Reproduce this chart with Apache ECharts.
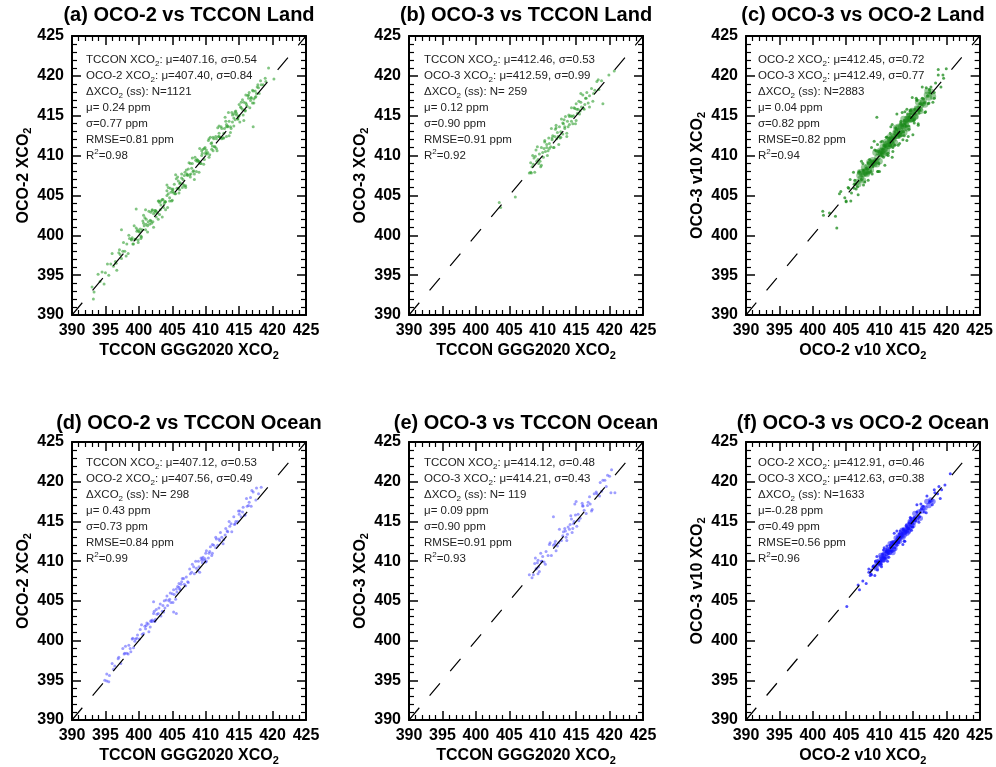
<!DOCTYPE html>
<html><head><meta charset="utf-8">
<script src="https://cdn.jsdelivr.net/npm/echarts@6/dist/echarts.min.js"></script>
<style>html,body{margin:0;padding:0;background:#fff}#c{width:996px;height:767px}</style>
</head><body><div id="c"></div>
<script>
// ---------- data ----------
const tickValues = [390, 395, 400, 405, 410, 415, 420, 425];
const oneToOne = [390, 425];
const titles = ['(a) OCO-2 vs TCCON Land', '(b) OCO-3 vs TCCON Land', '(c) OCO-3 vs OCO-2 Land',
                '(d) OCO-2 vs TCCON Ocean', '(e) OCO-3 vs TCCON Ocean', '(f) OCO-3 vs OCO-2 Ocean'];
const xNames = ['TCCON GGG2020 XCO{s|2}', 'TCCON GGG2020 XCO{s|2}', 'OCO-2 v10 XCO{s|2}'];
const yNames = ['OCO-2 XCO{s|2}', 'OCO-3 XCO{s|2}', 'OCO-3 v10 XCO{s|2}'];
const statsA = ['TCCON XCO{s|2}: μ=407.16, σ=0.54', 'OCO-2 XCO{s|2}: μ=407.40, σ=0.84', 'ΔXCO{s|2} (ss): N=1121', 'μ= 0.24 ppm', 'σ=0.77 ppm', 'RMSE=0.81 ppm', 'R{p|2}=0.98'];
const statsB = ['TCCON XCO{s|2}: μ=412.46, σ=0.53', 'OCO-3 XCO{s|2}: μ=412.59, σ=0.99', 'ΔXCO{s|2} (ss): N= 259', 'μ= 0.12 ppm', 'σ=0.90 ppm', 'RMSE=0.91 ppm', 'R{p|2}=0.92'];
const statsC = ['OCO-2 XCO{s|2}: μ=412.45, σ=0.72', 'OCO-3 XCO{s|2}: μ=412.49, σ=0.77', 'ΔXCO{s|2} (ss): N=2883', 'μ= 0.04 ppm', 'σ=0.82 ppm', 'RMSE=0.82 ppm', 'R{p|2}=0.94'];
const statsD = ['TCCON XCO{s|2}: μ=407.12, σ=0.53', 'OCO-2 XCO{s|2}: μ=407.56, σ=0.49', 'ΔXCO{s|2} (ss): N= 298', 'μ= 0.43 ppm', 'σ=0.73 ppm', 'RMSE=0.84 ppm', 'R{p|2}=0.99'];
const statsE = ['TCCON XCO{s|2}: μ=414.12, σ=0.48', 'OCO-3 XCO{s|2}: μ=414.21, σ=0.43', 'ΔXCO{s|2} (ss): N= 119', 'μ= 0.09 ppm', 'σ=0.90 ppm', 'RMSE=0.91 ppm', 'R{p|2}=0.93'];
const statsF = ['OCO-2 XCO{s|2}: μ=412.91, σ=0.46', 'OCO-3 XCO{s|2}: μ=412.63, σ=0.38', 'ΔXCO{s|2} (ss): N=1633', 'μ=-0.28 ppm', 'σ=0.49 ppm', 'RMSE=0.56 ppm', 'R{p|2}=0.96'];

const ptsA = [
393.0,393.5, 393.3,392.9, 393.9,395.1, 394.2,394.2, 394.5,395.4, 394.8,393.9, 395.0,395.3, 395.3,396.4, 395.5,395.0, 395.8,396.4,
396.0,397.7, 396.2,396.1, 396.5,396.7, 396.7,395.6, 397.0,397.8, 397.2,397.6, 397.4,397.1, 397.7,399.1, 397.9,398.0, 398.2,398.9,
398.4,397.7, 398.6,399.6, 398.9,399.4, 399.1,398.9, 399.3,401.2, 399.5,399.5, 399.7,400.5, 399.9,399.1, 400.1,400.4, 400.2,400.8,
400.4,399.8, 400.6,401.8, 400.8,401.2, 401.0,400.7, 401.1,402.0, 401.3,401.2, 401.5,403.0, 401.7,401.9, 401.9,401.5, 402.0,403.1,
402.2,401.0, 402.4,403.1, 402.6,403.0, 402.8,402.8, 403.0,404.3, 403.1,402.6, 403.3,403.8, 403.5,404.5, 403.7,403.5, 403.9,404.2,
404.0,403.2, 404.2,405.0, 404.4,406.0, 404.6,404.7, 404.8,405.4, 405.0,404.4, 405.1,405.5, 405.3,406.4, 405.5,405.2, 405.7,405.9,
405.9,406.8, 406.0,405.3, 406.2,406.6, 406.4,407.7, 406.6,406.4, 406.8,407.5, 407.0,406.0, 407.1,408.2, 407.3,407.5, 407.5,409.1,
407.7,407.3, 407.9,408.4, 408.0,409.0, 408.2,408.1, 408.4,409.8, 408.6,408.0, 408.8,409.4, 409.0,409.3, 409.1,410.9, 409.3,409.0,
409.5,410.3, 409.7,408.9, 409.9,411.0, 410.0,410.4, 410.2,410.2, 410.4,411.9, 410.6,410.1, 410.8,411.5, 411.0,411.2, 411.1,412.3,
411.3,411.1, 411.5,412.4, 411.7,410.6, 411.9,412.4, 412.0,413.7, 412.2,412.3, 412.4,413.4, 412.6,412.2, 412.8,413.4, 413.0,414.3,
413.1,412.4, 413.3,413.7, 413.5,414.3, 413.7,413.6, 413.9,415.4, 414.0,414.2, 414.2,413.7, 414.4,415.5, 414.6,415.1, 414.8,414.6,
415.0,416.4, 415.1,414.2, 415.3,416.0, 415.5,415.8, 415.7,416.7, 415.9,415.6, 416.0,417.6, 416.2,416.2, 416.4,417.2, 416.6,416.0,
416.8,417.3, 417.0,418.2, 417.2,417.1, 417.4,418.1, 417.6,417.8, 417.8,418.9, 418.0,417.8, 418.3,418.9, 418.6,418.9, 418.9,419.7,
399.2,398.9, 399.6,400.9, 400.0,400.5, 400.3,399.6, 400.7,401.5, 401.0,403.2, 401.4,401.7, 401.8,402.9, 402.1,401.7, 402.5,403.1,
402.9,404.3, 403.2,403.2, 403.6,404.5, 404.0,404.2, 404.3,403.5, 404.7,405.9, 405.0,405.7, 405.4,405.2, 405.8,407.3, 406.1,406.5,
406.5,406.0, 406.9,407.9, 407.2,407.7, 407.6,407.6, 408.0,409.7, 408.3,407.7, 408.7,409.5, 409.0,409.2, 409.4,410.6, 409.8,409.5,
410.1,410.7, 410.5,412.1, 410.9,410.8, 411.2,412.1, 411.6,410.9, 412.0,412.4, 412.3,413.6, 412.7,412.8, 413.1,413.9, 413.4,415.4,
413.8,413.4, 414.2,414.7, 414.5,415.6, 414.9,414.9, 415.3,416.7, 415.6,415.1, 416.0,416.6, 416.4,417.6, 416.7,416.9, 417.1,418.1, 417.5,417.4,
393.2,392.0, 397.4,400.7, 399.6,403.3, 404.2,406.3, 417.1,413.6, 419.4,421.0, 420.2,419.6, 419.0,419.3
];
const ptsA2 = [
396.6,396.5, 397.1,398.2, 397.6,398.0, 398.1,397.4, 398.5,400.0, 398.9,399.5, 399.4,399.5, 399.8,400.7, 400.3,399.9, 400.7,402.5,
401.1,401.4, 401.6,401.4, 402.0,403.2, 402.4,402.9, 402.9,402.0, 403.3,404.3, 403.8,404.0, 404.2,405.6, 404.6,404.3, 405.1,405.8,
405.5,407.6, 405.9,405.9, 406.4,407.2, 406.8,406.2, 407.2,407.6, 407.7,409.0, 408.1,408.0, 408.5,409.4, 409.0,407.9, 409.4,410.0,
409.8,410.9, 410.3,410.4, 410.7,412.3, 411.1,410.6, 411.6,412.1, 412.0,412.8, 412.4,412.1, 412.9,414.8, 413.3,413.6, 413.7,412.9,
414.2,415.2, 414.6,415.3, 415.0,415.0, 415.5,417.0, 415.9,415.7, 416.3,417.5, 416.8,417.2, 417.2,416.6, 417.7,418.6, 418.2,419.4,
399.0,399.7, 399.9,399.4, 400.5,400.7, 400.9,402.2, 401.3,400.4, 401.8,401.8, 402.2,402.7, 402.6,402.3, 403.1,404.1, 403.5,402.3,
403.9,404.2, 404.4,405.2, 404.9,404.3, 405.2,405.3, 405.6,407.1, 406.1,405.7, 406.6,407.0, 407.0,406.2, 407.4,408.3, 407.8,407.7,
408.3,407.0, 408.7,409.3, 409.2,409.0, 409.6,410.8, 410.0,410.2, 410.5,409.8, 410.9,411.6, 411.4,411.1, 411.8,413.5, 412.2,412.2,
412.7,412.2, 413.1,413.6, 413.5,412.5, 414.0,415.1, 414.4,414.5, 414.8,414.6, 415.2,416.1, 415.7,414.4, 416.1,416.4, 416.5,417.9,
417.0,416.6, 417.4,417.3, 417.9,418.5
];
const ptsB = [
408.0,407.8, 408.2,409.1, 408.3,407.8, 408.5,410.0, 408.6,408.9, 408.8,407.9, 408.9,409.9, 409.1,409.3, 409.2,411.1, 409.4,409.0,
409.5,410.2, 409.7,408.6, 409.8,411.0, 410.0,410.4, 410.1,409.8, 410.3,411.9, 410.4,410.5, 410.6,411.4, 410.7,410.0, 410.9,412.2,
411.0,411.5, 411.2,411.1, 411.3,413.4, 411.5,412.5, 411.6,411.0, 411.8,412.4, 411.9,413.3, 412.1,412.1, 412.2,412.9, 412.4,411.4,
412.5,413.6, 412.7,413.0, 412.8,414.6, 413.0,412.7, 413.1,414.0, 413.3,413.4, 413.4,414.9, 413.6,412.8, 413.7,414.3, 413.9,415.1,
414.0,413.9, 414.2,415.0, 414.3,416.0, 414.5,414.0, 414.6,415.0, 414.8,415.9, 414.9,414.0, 415.1,415.8, 415.2,415.3, 415.4,416.8,
415.5,415.2, 415.7,416.7, 415.8,416.1, 416.0,417.6, 416.2,415.8, 416.4,417.2, 416.6,417.9, 416.8,416.6, 417.0,417.5, 417.3,418.4,
417.5,416.8, 417.8,418.2, 418.1,419.3, 418.4,418.3, 418.8,419.4,
408.4,408.6, 409.0,410.7, 409.6,409.3, 410.2,410.9, 410.8,410.6, 411.4,412.0, 412.0,413.5, 412.6,412.2, 413.2,414.5, 413.8,413.6,
414.4,414.9, 415.0,416.5, 415.6,415.6, 416.3,416.4,
403.5,404.1, 403.7,403.5, 405.9,404.8, 419.9,420.1, 420.7,420.6, 419.0,416.5
];
const ptsB2 = [
408.2,407.9, 408.7,409.7, 409.3,409.5, 409.8,408.8, 410.3,411.7, 410.6,411.0, 411.0,410.9, 411.4,412.2, 411.7,411.0, 412.0,413.8,
412.3,412.4, 412.7,412.3, 413.0,414.1, 413.3,413.6, 413.6,412.4, 414.0,414.9, 414.3,414.3, 414.7,416.0, 415.0,414.4, 415.3,415.8,
415.7,417.8, 416.1,415.9, 416.5,417.2, 417.0,416.1, 417.6,417.8, 418.3,419.5
];
const ptsCcore = [
406.6,406.7, 406.8,406.4, 407.0,407.5, 407.2,407.1, 407.4,407.7, 407.5,406.9, 407.7,408.5, 407.9,407.9, 408.0,407.8, 408.2,408.6,
408.4,408.3, 408.5,409.2, 408.7,408.2, 408.9,409.1, 409.0,409.4, 409.2,408.9, 409.4,410.4, 409.5,409.3, 409.7,409.8, 409.9,410.4,
410.0,409.3, 410.2,410.4, 410.3,410.2, 410.5,411.1, 410.6,410.2, 410.8,410.9, 410.9,411.4, 411.1,410.6, 411.2,411.5, 411.4,411.2,
411.5,412.3, 411.7,411.8, 411.8,411.4, 412.0,412.4, 412.1,412.1, 412.3,411.6, 412.4,412.9, 412.6,412.8, 412.7,412.5, 412.9,413.6,
413.0,412.9, 413.2,413.6, 413.3,412.8, 413.5,413.7, 413.6,414.6, 413.8,413.5, 413.9,413.9, 414.1,414.6, 414.2,413.4, 414.4,414.6,
414.5,414.9, 414.7,414.6, 414.8,415.5, 415.0,414.6, 415.2,415.3, 415.4,414.9, 415.6,415.9, 415.8,416.7, 416.0,415.8, 416.2,416.3,
416.5,416.6, 416.8,416.4, 417.1,417.6, 417.4,417.3, 417.7,418.0, 418.0,417.4,
407.1,407.9, 407.6,407.7, 408.1,407.7, 408.6,409.0, 409.1,409.1, 409.6,408.9, 410.1,410.6, 410.4,410.6, 410.7,410.5, 411.0,411.7,
411.3,411.2, 411.6,412.0, 411.9,411.4, 412.2,412.4, 412.5,413.5, 412.8,412.5, 413.1,413.1, 413.4,413.9, 413.7,412.9, 414.0,414.2,
414.3,414.7, 414.6,414.5, 414.9,415.6, 415.3,414.9, 415.7,415.8, 416.1,415.6, 416.6,416.9, 417.2,418.1
];
const ptsChalo = [
402.5,402.8, 403.4,402.4, 404.2,405.5, 404.8,404.7, 405.3,406.0, 405.7,404.3, 406.1,407.9, 406.4,406.4, 406.7,406.1, 407.0,408.0,
407.3,407.0, 407.5,409.0, 407.8,406.7, 408.0,408.4, 408.3,409.1, 408.5,407.8, 408.8,411.0, 409.0,408.6, 409.2,409.3, 409.5,410.6,
409.7,408.0, 409.9,410.5, 410.2,410.1, 410.4,411.8, 410.6,409.8, 410.8,411.1, 411.0,412.3, 411.3,410.0, 411.5,412.2, 411.7,411.3,
411.9,413.9, 412.1,412.2, 412.3,411.3, 412.5,413.3, 412.8,412.8, 413.0,411.5, 413.2,414.3, 413.4,413.8, 413.6,413.0, 413.8,415.5,
414.0,413.7, 414.2,415.2, 414.4,413.3, 414.6,415.2, 414.9,417.3, 415.1,414.4, 415.3,415.3, 415.6,416.9, 415.8,414.0, 416.1,416.5,
416.4,417.2, 416.7,416.6, 417.0,418.5, 417.3,416.5, 417.6,417.9, 418.0,416.7, 418.4,419.1, 418.8,420.1, 419.2,418.6, 419.6,419.7,
406.2,405.9, 406.9,407.9, 407.6,406.3, 408.2,408.3, 408.7,408.0, 409.3,410.7, 409.8,408.0, 410.3,410.3, 410.7,411.3, 411.1,410.1,
411.6,411.9, 412.0,410.5, 412.4,413.5, 412.9,412.5, 413.3,412.5, 413.7,414.4, 414.1,411.9, 414.5,414.9, 414.8,414.7, 415.2,414.1,
415.5,417.2, 415.9,415.3, 416.3,416.4, 416.9,415.5, 417.5,418.3, 418.2,417.9,
401.6,402.5, 401.5,403.0, 403.6,400.9, 409.6,414.8, 420.0,420.9, 419.5,420.1, 404.0,405.2, 405.0,404.2, 405.4,405.9, 405.8,405.3, 406.3,406.9, 406.5,405.8
];
const ptsCwide = [
405.0,404.3, 405.6,407.0, 406.2,406.4, 406.8,405.1, 407.3,409.3, 407.7,408.2, 408.1,407.8, 408.5,409.5, 408.9,407.7, 409.2,411.8,
409.5,409.5, 409.9,409.0, 410.2,411.7, 410.5,410.8, 410.8,408.8, 411.1,412.3, 411.4,411.2, 411.7,413.6, 412.0,411.0, 412.3,413.0,
412.6,415.2, 412.9,412.4, 413.2,414.1, 413.5,412.0, 413.8,414.0, 414.1,415.8, 414.4,413.7, 414.7,415.7, 415.0,412.6, 415.3,415.8,
415.6,417.0, 416.0,415.7, 416.4,418.6, 416.8,415.4, 417.2,417.5, 417.7,418.6, 418.2,417.2, 418.8,420.8,
407.5,408.2, 408.3,406.9, 409.0,408.8, 409.7,411.4, 410.0,408.0, 410.4,409.9, 410.9,411.2, 411.3,410.3, 411.6,412.8, 411.9,409.8,
412.2,412.2, 412.5,413.4, 412.8,411.3, 413.1,412.8, 413.4,415.4, 413.7,412.5, 414.0,414.2, 414.3,412.4, 414.6,415.6, 415.2,414.5,
415.8,413.8, 416.6,417.1, 417.4,416.6
];
const ptsD = [
395.2,395.8, 395.6,395.6, 396.0,397.1, 396.4,396.8, 396.9,397.7, 397.3,397.1, 397.6,399.0, 397.9,398.4, 398.2,398.4, 398.5,399.4,
398.7,399.0, 399.0,400.2, 399.2,399.1, 399.5,400.2, 399.8,400.7, 400.1,400.2, 400.4,402.0, 400.7,400.9, 401.0,401.5, 401.2,402.2,
401.5,401.1, 401.8,402.5, 402.0,402.4, 402.2,403.4, 402.4,402.4, 402.7,403.3, 403.0,404.1, 403.3,403.1, 403.6,404.4, 403.9,404.1,
404.2,405.6, 404.5,405.0, 404.8,404.8, 405.0,405.9, 405.3,405.8, 405.5,405.2, 405.8,406.8, 406.0,406.7, 406.2,406.4, 406.5,407.8,
406.8,407.1, 407.1,408.0, 407.4,407.3, 407.7,408.4, 408.0,409.6, 408.3,408.4, 408.6,409.1, 408.9,410.0, 409.1,408.6, 409.4,410.1,
409.6,410.5, 409.9,410.3, 410.1,411.3, 410.4,410.4, 410.6,411.2, 410.9,410.7, 411.2,412.0, 411.5,413.0, 411.8,412.0, 412.1,412.6,
412.4,413.0, 412.7,412.7, 413.0,414.1, 413.3,413.7, 413.6,414.4, 413.9,413.7, 414.2,415.6, 414.5,415.0, 414.8,415.0, 415.0,415.9,
415.3,415.6, 415.6,416.8, 415.9,415.8, 416.2,416.9, 416.5,417.4, 416.8,416.9, 417.1,418.7, 417.5,417.7,
398.0,399.3, 398.8,398.6, 399.4,399.9, 400.2,401.4, 400.9,401.8, 401.4,402.1, 402.6,403.9, 403.2,404.6, 403.7,403.6, 404.3,404.4,
404.7,406.0, 405.2,406.4, 405.7,406.1, 406.4,407.4, 407.0,406.9, 407.6,409.0, 408.2,409.3, 408.8,408.8, 409.3,410.4, 410.0,411.0,
410.7,411.8, 411.0,411.0, 411.6,412.8, 412.2,413.6, 412.9,413.3, 413.5,415.0, 414.3,414.6, 414.9,416.3, 415.5,416.2, 416.1,417.9, 416.7,418.0,
395.2,394.9, 394.9,395.0, 395.5,394.8, 417.6,419.2, 418.3,419.3, 416.9,418.9, 417.9,418.5,
402.2,404.9, 405.2,403.6, 405.6,403.4, 403.8,405.0, 402.5,402.7, 402.0,402.6, 401.8,402.4, 402.3,402.5, 406.0,407.2, 406.3,407.1,
409.8,410.1, 410.1,410.0, 409.5,409.8
];
const ptsD2 = [
396.2,396.4, 397.0,397.9, 397.8,398.3, 398.4,398.3, 399.1,400.3, 399.7,400.3, 400.5,400.8, 401.1,401.9, 401.7,401.7, 402.3,403.7,
402.9,403.4, 403.5,403.7, 404.1,405.1, 404.6,405.2, 405.1,404.8, 405.6,406.5, 406.1,406.5, 406.7,407.8, 407.3,407.4, 407.9,408.6,
408.5,410.0, 409.0,409.3, 409.5,410.3, 410.0,409.9, 410.5,411.0, 411.0,412.1, 411.5,411.7, 412.0,412.8, 412.6,412.2, 413.2,413.8,
413.8,414.7, 414.4,414.7, 415.1,416.3, 415.8,415.8, 416.4,417.0
];
const ptsE = [
408.0,408.3, 408.4,407.9, 408.8,409.7, 409.0,409.0, 409.2,409.8, 409.5,408.7, 409.7,411.0, 409.9,410.0, 410.2,409.9, 410.5,411.2,
410.8,410.7, 411.0,412.1, 411.3,410.7, 411.6,412.0, 411.9,412.5, 412.2,411.9, 412.5,414.0, 412.8,412.6, 413.0,413.2, 413.3,414.1,
413.6,412.6, 413.8,414.3, 414.0,414.0, 414.3,415.3, 414.5,414.1, 414.7,415.0, 414.9,415.8, 415.1,414.4, 415.3,415.9, 415.6,415.4,
415.9,417.3, 416.2,416.4, 416.5,416.0, 416.8,417.4, 417.1,417.2, 417.4,416.5, 417.7,418.5, 418.1,418.5, 418.5,418.2, 419.0,420.2,
419.5,419.4, 420.0,420.7,
420.3,421.5, 420.8,418.6, 420.2,418.6, 411.6,415.6, 409.1,409.1, 409.4,409.3, 409.3,408.4, 408.9,410.4, 410.0,410.6, 412.0,411.3,
413.4,413.8, 414.1,414.6, 414.8,417.2, 415.0,417.5, 416.0,417.0, 417.0,418.1, 418.6,419.9, 419.3,420.2, 413.7,413.4, 414.4,413.6
];
const ptsE2 = [
408.6,408.3, 409.3,410.1, 409.8,410.0, 410.4,409.6, 411.1,412.3, 411.8,412.2, 412.4,412.3, 413.1,413.7, 413.5,413.0, 414.2,415.7,
414.6,414.7, 415.4,415.1, 416.0,416.9, 416.7,417.0, 417.3,416.3, 418.0,418.7, 418.8,418.8, 419.7,420.8
];
const ptsFcore = [
409.3,409.3, 409.5,409.1, 409.6,409.9, 409.8,409.7, 409.9,410.0, 410.1,409.6, 410.2,410.7, 410.4,410.3, 410.5,410.2, 410.6,410.8,
410.8,410.6, 410.9,411.3, 411.0,410.5, 411.2,411.2, 411.3,411.5, 411.4,411.1, 411.6,412.2, 411.7,411.5, 411.8,411.8, 412.0,412.3,
412.1,411.5, 412.2,412.3, 412.4,412.3, 412.5,412.9, 412.6,412.2, 412.8,412.8, 412.9,413.2, 413.0,412.5, 413.2,413.3, 413.3,413.1,
413.4,413.9, 413.6,413.6, 413.7,413.3, 413.8,414.0, 414.0,413.9, 414.1,413.5, 414.2,414.5, 414.4,414.4, 414.5,414.2, 414.6,415.0,
414.8,414.6, 414.9,415.1, 415.0,414.5, 415.2,415.3, 415.3,416.0, 415.5,415.2, 415.7,415.6, 415.9,416.2, 416.1,415.4, 416.3,416.3,
416.5,416.7, 416.8,416.7, 417.1,417.5, 417.4,417.0, 417.7,417.7, 418.0,417.5,
410.0,409.8, 410.3,410.5, 410.7,410.2, 411.1,411.0, 411.5,411.1, 411.9,412.2, 412.3,411.6, 412.7,412.6, 413.1,413.1, 413.5,413.0,
413.9,413.8, 414.3,413.7, 414.7,414.9, 415.1,414.9, 410.5,410.1, 411.3,411.4, 412.0,411.1, 412.9,412.8, 413.7,413.6, 414.4,413.9
];
const ptsFhalo = [
407.5,407.5, 408.0,407.2, 408.4,409.0, 408.7,408.4, 409.0,409.3, 409.3,408.2, 409.6,410.6, 409.9,409.7, 410.2,409.6, 410.5,410.9,
410.8,410.4, 411.1,411.9, 411.4,410.5, 411.7,411.8, 412.0,412.3, 412.3,411.7, 412.6,413.8, 412.9,412.4, 413.2,413.1, 413.5,414.0,
413.8,412.5, 414.1,414.3, 414.4,414.1, 414.7,415.4, 415.0,414.3, 415.3,415.3, 415.6,416.2, 415.9,414.9, 416.3,416.6, 416.7,416.2,
417.1,418.2, 417.5,417.4, 417.9,417.1, 418.3,418.6, 418.7,418.5, 419.1,417.9,
405.1,404.3, 407.0,406.4, 406.8,407.0, 419.8,419.6, 420.6,421.0, 418.9,419.4, 419.3,419.0, 408.4,408.6, 408.6,408.2, 408.8,408.9
];
const ptsFwide = [
408.8,408.3, 409.4,410.0, 409.9,409.9, 410.3,409.3, 410.7,411.7, 411.0,411.2, 411.3,411.0, 411.6,412.0, 411.9,411.2, 412.2,413.5,
412.5,412.4, 412.8,412.3, 413.1,413.8, 413.4,413.5, 413.7,412.5, 414.0,414.5, 414.3,414.1, 414.6,415.5, 414.9,414.3, 415.2,415.5,
415.6,417.1, 416.0,415.6, 416.5,416.9, 417.0,416.1, 417.6,417.6, 418.2,419.0,
409.1,409.4, 409.7,408.9, 410.2,410.0, 410.6,411.4, 411.2,410.0, 411.7,411.3, 412.1,412.2, 412.6,412.0, 413.0,413.5, 413.5,412.1,
413.9,413.8, 414.4,414.8, 414.8,413.9, 415.4,415.1, 416.2,417.2
];

// ---------- chart ----------
function pairs(a) { const r = []; for (let i = 0; i < a.length; i += 2) r.push([a[i], a[i + 1]]); return r; }
const F = '"Liberation Sans", Arial, Helvetica, sans-serif';
const lefts = [72, 409, 746], tops = [36, 442], W = 234, H = 279;
const textOff = [14, 15, 12];
const statTop = [60, 463];
const titleTop = [5, 413];
const GREEN = '#2f9e2f', DGREEN = '#1a8a1a', BLUE = '#5050ff', DBLUE = '#1414ff';
const panels = [
  { stats: statsA, layers: [{ d: ptsA, c: GREEN, s: 3, o: 0.6 }, { d: ptsA2, c: GREEN, s: 3, o: 0.6 }] },
  { stats: statsB, layers: [{ d: ptsB, c: GREEN, s: 3, o: 0.6 }, { d: ptsB2, c: GREEN, s: 3, o: 0.6 }] },
  { stats: statsC, layers: [{ d: ptsChalo, c: DGREEN, s: 3, o: 0.75 }, { d: ptsCwide, c: DGREEN, s: 3, o: 0.75 }, { d: ptsCcore, c: DGREEN, s: 6.5, o: 0.45 }] },
  { stats: statsD, layers: [{ d: ptsD, c: BLUE, s: 3, o: 0.55 }, { d: ptsD2, c: BLUE, s: 3, o: 0.55 }] },
  { stats: statsE, layers: [{ d: ptsE, c: BLUE, s: 3, o: 0.55 }, { d: ptsE2, c: BLUE, s: 3, o: 0.55 }] },
  { stats: statsF, layers: [{ d: ptsFhalo, c: DBLUE, s: 3, o: 0.75 }, { d: ptsFwide, c: DBLUE, s: 3, o: 0.75 }, { d: ptsFcore, c: DBLUE, s: 5.5, o: 0.5 }] }
];
const grid = [], xAxis = [], yAxis = [], series = [], title = [], graphic = [];
const nameStyle = { fontFamily: F, fontWeight: 'bold', fontSize: 16, color: '#000', lineHeight: 20,
  rich: { s: { fontFamily: F, fontWeight: 'bold', fontSize: 11, lineHeight: 12, verticalAlign: 'bottom', color: '#000' } } };
for (let i = 0; i < 6; i++) {
  const col = i % 3, row = Math.floor(i / 3);
  grid.push({ left: lefts[col], top: tops[row], width: W, height: H });
  const common = {
    type: 'value', gridIndex: i, min: tickValues[0], max: tickValues[tickValues.length - 1],
    interval: tickValues[1] - tickValues[0],
    splitLine: { show: false },
    axisLine: { show: true, onZero: false, lineStyle: { color: '#000', width: 2 } },
    axisTick: { show: true, inside: true, length: 9, lineStyle: { color: '#000', width: 1.5 } },
    minorTick: { show: true, splitNumber: 5, length: 5, lineStyle: { color: '#000', width: 1.2 } },
    minorSplitLine: { show: false }
  };
  const lbl = { color: '#000', fontFamily: F, fontWeight: 'bold', fontSize: 16, margin: 8 };
  xAxis.push(Object.assign({}, common, { position: 'bottom', axisLabel: lbl, name: xNames[col], nameLocation: 'middle', nameGap: 26, nameTextStyle: nameStyle }));
  xAxis.push(Object.assign({}, common, { position: 'top', axisLabel: { show: false } }));
  yAxis.push(Object.assign({}, common, { position: 'left', axisLabel: lbl, name: yNames[col], nameLocation: 'middle', nameGap: 38, nameTextStyle: nameStyle }));
  yAxis.push(Object.assign({}, common, { position: 'right', axisLabel: { show: false } }));
  panels[i].layers.forEach(L => series.push({
    type: 'scatter', xAxisIndex: 2 * i, yAxisIndex: 2 * i, data: pairs(L.d), symbol: 'circle', symbolSize: L.s,
    itemStyle: { color: L.c, opacity: L.o }, silent: true, animation: false, z: 2
  }));
  series.push({
    type: 'line', xAxisIndex: 2 * i, yAxisIndex: 2 * i,
    data: [[oneToOne[0], oneToOne[0]], [oneToOne[1], oneToOne[1]]], symbol: 'none',
    lineStyle: { color: '#000', width: 1.2, type: [16, 16] }, z: 5, silent: true, animation: false
  });
  title.push({ text: titles[i], left: lefts[col] + W / 2, top: titleTop[row], textAlign: 'center', padding: 0,
    textStyle: { fontFamily: F, fontWeight: 'bold', fontSize: 20, color: '#000' } });
  panels[i].stats.forEach((t, k) => graphic.push({
    type: 'text', x: lefts[col] + textOff[col], y: statTop[row] + k * 16, z: 10, silent: true,
    style: { text: t, fill: '#222', fontFamily: F, fontSize: 11.5, lineHeight: 16, align: 'left', verticalAlign: 'middle',
      rich: { s: { fontSize: 8, lineHeight: 10, verticalAlign: 'bottom', fill: '#222', fontFamily: F },
              p: { fontSize: 8, lineHeight: 10, verticalAlign: 'top', fill: '#222', fontFamily: F } } }
  }));
}
const chart = echarts.init(document.getElementById('c'));
chart.setOption({ backgroundColor: '#fff', animation: false, title, grid, xAxis, yAxis, series, graphic });
</script></body></html>
